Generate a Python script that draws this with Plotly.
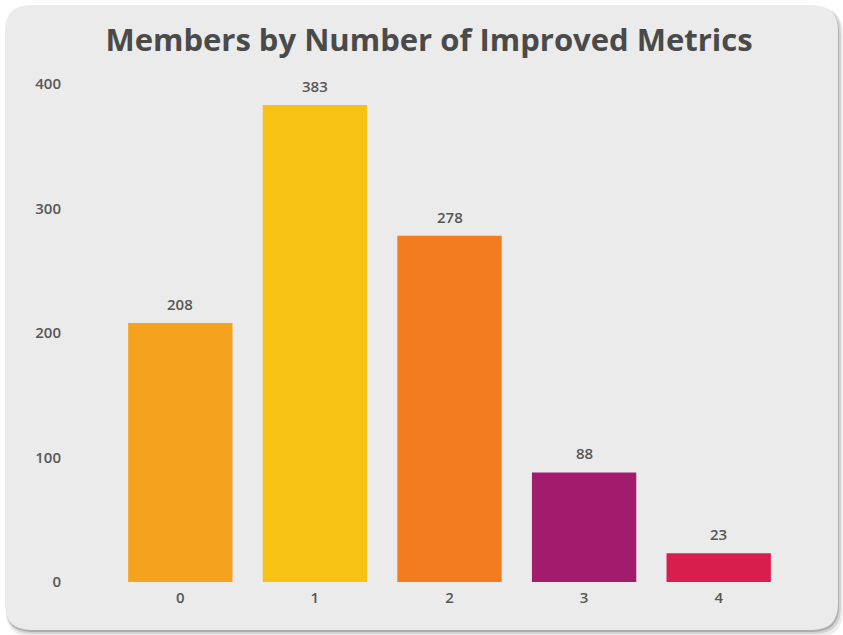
import plotly.graph_objects as go

categories = ["0", "1", "2", "3", "4"]
members = [208, 383, 278, 88, 23]
bar_colors = ["#F5A31F", "#F8C214", "#F37C21", "#A11C6C", "#D81E4C"]
y_ticks = [0, 100, 200, 300, 400]

W, H = 843, 635
L, R, T, B = 113, 57, 59, 53  # plot area margins (px)
TXT = "#575757"

fig = go.Figure(go.Bar(
    x=categories, y=members,
    marker=dict(color=bar_colors, line=dict(width=0)),
    width=0.775, hoverinfo="x+y",
))

for c, v in zip(categories, members):
    fig.add_annotation(x=c, y=v, text=str(v), showarrow=False, yanchor="bottom",
                       yshift=7, font=dict(family="Open Sans", size=15, color=TXT, weight=600))

def rrect(x0, y0, x1, y1, r):
    return (f"M{x0+r},{y0} L{x1-r},{y0} Q{x1},{y0} {x1},{y0+r} "
            f"L{x1},{y1-r} Q{x1},{y1} {x1-r},{y1} L{x0+r},{y1} "
            f"Q{x0},{y1} {x0},{y1-r} L{x0},{y0+r} Q{x0},{y0} {x0+r},{y0} Z")

cx0, cy0, cx1, cy1 = 5, 5, 838, 630
def rel(x0, y0, x1, y1):
    bottom = H - B
    return (x0 - L, bottom - y1, x1 - L, bottom - y0)

shapes = []
for dx, dy, grow, op in [(3, 5, 2, 0.07), (2, 3, 1, 0.11), (1, 2, 0, 0.18)]:
    a, b, c, d = rel(cx0 + dx - grow, cy0 + dy - grow, cx1 + dx + grow, cy1 + dy + grow)
    shapes.append(dict(type="path", xref="paper", yref="paper", xsizemode="pixel",
                       ysizemode="pixel", xanchor=0, yanchor=0, path=rrect(a, b, c, d, 26),
                       fillcolor=f"rgba(0,0,0,{op})", line=dict(width=0), layer="below"))
a, b, c, d = rel(cx0, cy0, cx1, cy1)
shapes.append(dict(type="path", xref="paper", yref="paper", xsizemode="pixel",
                   ysizemode="pixel", xanchor=0, yanchor=0, path=rrect(a, b, c, d, 26),
                   fillcolor="#EBEBEB", line=dict(width=0), layer="below"))

fig.update_layout(
    width=W, height=H,
    margin=dict(l=L, r=R, t=T, b=B, pad=0),
    paper_bgcolor="white", plot_bgcolor="rgba(0,0,0,0)",
    shapes=shapes,
    bargap=0.225,
    showlegend=False,
    title=dict(text="<b>Members by Number of Improved Metrics</b>",
               x=429 / W, xanchor="center", yref="container", y=1 - 40 / H, yanchor="middle",
               font=dict(family="Open Sans", size=31, color="#4A4A4A")),
    xaxis=dict(showgrid=False, zeroline=False, showline=False, ticks="",
               tickfont=dict(family="Open Sans", size=15, color=TXT, weight=600),
               ticklabelstandoff=5, fixedrange=True),
    yaxis=dict(range=[0, 420], tickvals=y_ticks, showgrid=False, zeroline=False,
               showline=False, ticks="",
               tickfont=dict(family="Open Sans", size=15, color=TXT, weight=600),
               ticklabelstandoff=51, fixedrange=True),
)

fig.write_html("out.html", config={"displayModeBar": False},
               post_script="document.body.style.margin='0px';")
